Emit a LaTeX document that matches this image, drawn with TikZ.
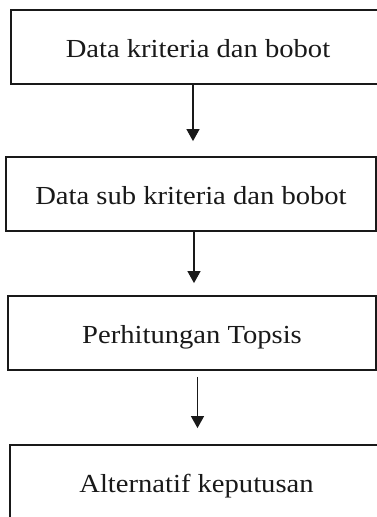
\documentclass[tikz,border=0pt]{standalone}
\usepackage{fontspec}
\setmainfont{Liberation Serif}[FakeStretch=1.1]
\usetikzlibrary{arrows.meta}
\tikzset{
  box/.style={draw=black!90, line width=1.8pt, rectangle, inner sep=0pt,
    minimum height=74pt, text height=20pt, text depth=0pt,
    font=\fontsize{26}{30}\selectfont, text=black!90},
  arr/.style={draw=black!90, line width=1.2pt, -{Triangle[width=13pt,length=12pt]}}
}
\begin{document}
\begin{tikzpicture}[x=1pt,y=-1pt]
\useasboundingbox (0,0) rectangle (377,517);
\clip (0,0) rectangle (377,517);
\fill[white] (0,0) rectangle (377,517);
\node[box, minimum width=374pt] (b1) at (198,47) {Data kriteria dan bobot};
\node[box, minimum width=370pt] (b2) at (191,194) {Data sub kriteria dan bobot};
\node[box, minimum width=368pt] (b3) at (192,333) {Perhitungan Topsis};
\node[box, minimum width=373pt] (b4) at (196.5,482) {Alternatif keputusan};
\draw[arr, shorten >=15pt] ([xshift=-5pt]b1.south) -- ([xshift=-5pt]b1.south |- b2.north);
\draw[arr, shorten >=12pt] ([xshift=3pt]b2.south) -- ([xshift=3pt]b2.south |- b3.north);
\draw[arr, shorten <=6pt, shorten >=16pt] ([xshift=5.5pt]b3.south) -- ([xshift=5.5pt]b3.south |- b4.north);
\end{tikzpicture}
\end{document}
